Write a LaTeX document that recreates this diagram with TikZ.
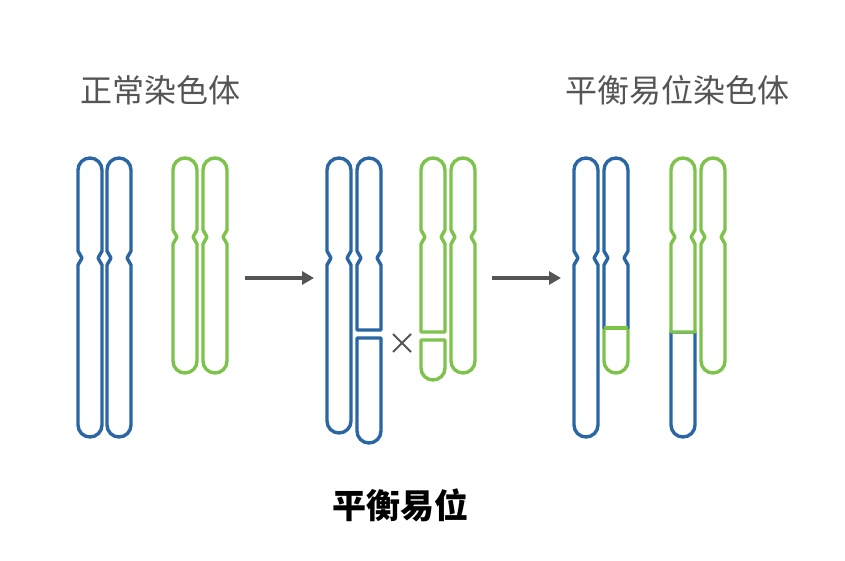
\documentclass[tikz,border=0pt]{standalone}
\usepackage{fontspec}
\newfontfamily\cjk{Noto Sans CJK SC}
\usetikzlibrary{arrows.meta}
\definecolor{cblue}{HTML}{2A66A3}
\definecolor{cgreen}{HTML}{7DC24A}
\definecolor{cgray}{HTML}{555555}
\newcommand\piece[8]{%
 \pgfmathsetmacro\rr{(#2-#1)/2}%
 \ifnum#6=1 \def\ptop{(#1,#3+\rr) arc[start angle=180,end angle=0,radius=\rr pt]}\else\def\ptop{(#1,#3) -- (#2,#3)}\fi
 \ifnum#5>0 \def\pr{-- (#2,#5-7) -- (#2-4,#5) -- (#2,#5+7)}\def\pl{-- (#1,#5+7) -- (#1+4,#5) -- (#1,#5-7)}\else\def\pr{}\def\pl{}\fi
 \ifnum#7=1 \def\pbot{-- (#2,#4-\rr) arc[start angle=0,end angle=-180,radius=\rr pt]}\else\def\pbot{-- (#2,#4) -- (#1,#4)}\fi
 \draw[chromo,draw=#8] \ptop \pr \pbot \pl -- cycle;}
\begin{document}
\begin{tikzpicture}[x=1pt,y=-1pt,
  chromo/.style={line width=3.4pt,fill=white,line join=round},
  arr/.style={draw=cgray,line width=3.6pt,-{Triangle[length=12pt,width=13pt]}},
  title/.style={font=\cjk\fontsize{32}{32}\selectfont,text=cgray},
  lbl/.style={font=\cjk\bfseries\fontsize{34}{34}\selectfont,text=black}]
\useasboundingbox[fill=white] (0,0) rectangle (845,561);
\node[title] (t1) at (160,90) {正常染色体};
\node[title] (t2) at (677,90) {平衡易位染色体};
\node[lbl] (t3) at (400,505) {平衡易位};
% group 1
\piece{78}{102}{158}{437}{258}{1}{1}{cblue}
\piece{107}{131}{158}{437}{258}{1}{1}{cblue}
\piece{173}{197}{158}{373}{237}{1}{1}{cgreen}
\piece{203}{227}{158}{373}{237}{1}{1}{cgreen}
% group 2
\piece{327}{351}{158}{433}{258}{1}{1}{cblue}
\piece{357}{381}{158}{330}{258}{1}{0}{cblue}
\piece{357}{381}{338}{443}{0}{0}{1}{cblue}
\piece{421}{445}{158}{332}{237}{1}{0}{cgreen}
\piece{421}{445}{340}{380}{0}{0}{1}{cgreen}
\piece{451}{475}{158}{373}{237}{1}{1}{cgreen}
\coordinate (xc) at (402,343);
\draw[cgray,line width=2pt] ([shift={(-9,-9)}]xc) -- ([shift={(9,9)}]xc) ([shift={(-9,9)}]xc) -- ([shift={(9,-9)}]xc);
% group 3
\piece{574}{598}{158}{437}{258}{1}{1}{cblue}
\piece{604}{628}{328}{373}{0}{0}{1}{cgreen}
\piece{604}{628}{158}{328}{258}{1}{0}{cblue}
\draw[cgreen,line width=3.4pt] (604,328) -- (628,328);
\piece{671}{695}{332}{437}{0}{0}{1}{cblue}
\piece{671}{695}{158}{332}{237}{1}{0}{cgreen}
\piece{701}{725}{158}{373}{237}{1}{1}{cgreen}
% arrows
\coordinate (a1) at (245,278); \coordinate (b1) at (314,278);
\coordinate (a2) at (492,278); \coordinate (b2) at (561,278);
\draw[arr] (a1) -- (b1);
\draw[arr] (a2) -- (b2);
\end{tikzpicture}
\end{document}
